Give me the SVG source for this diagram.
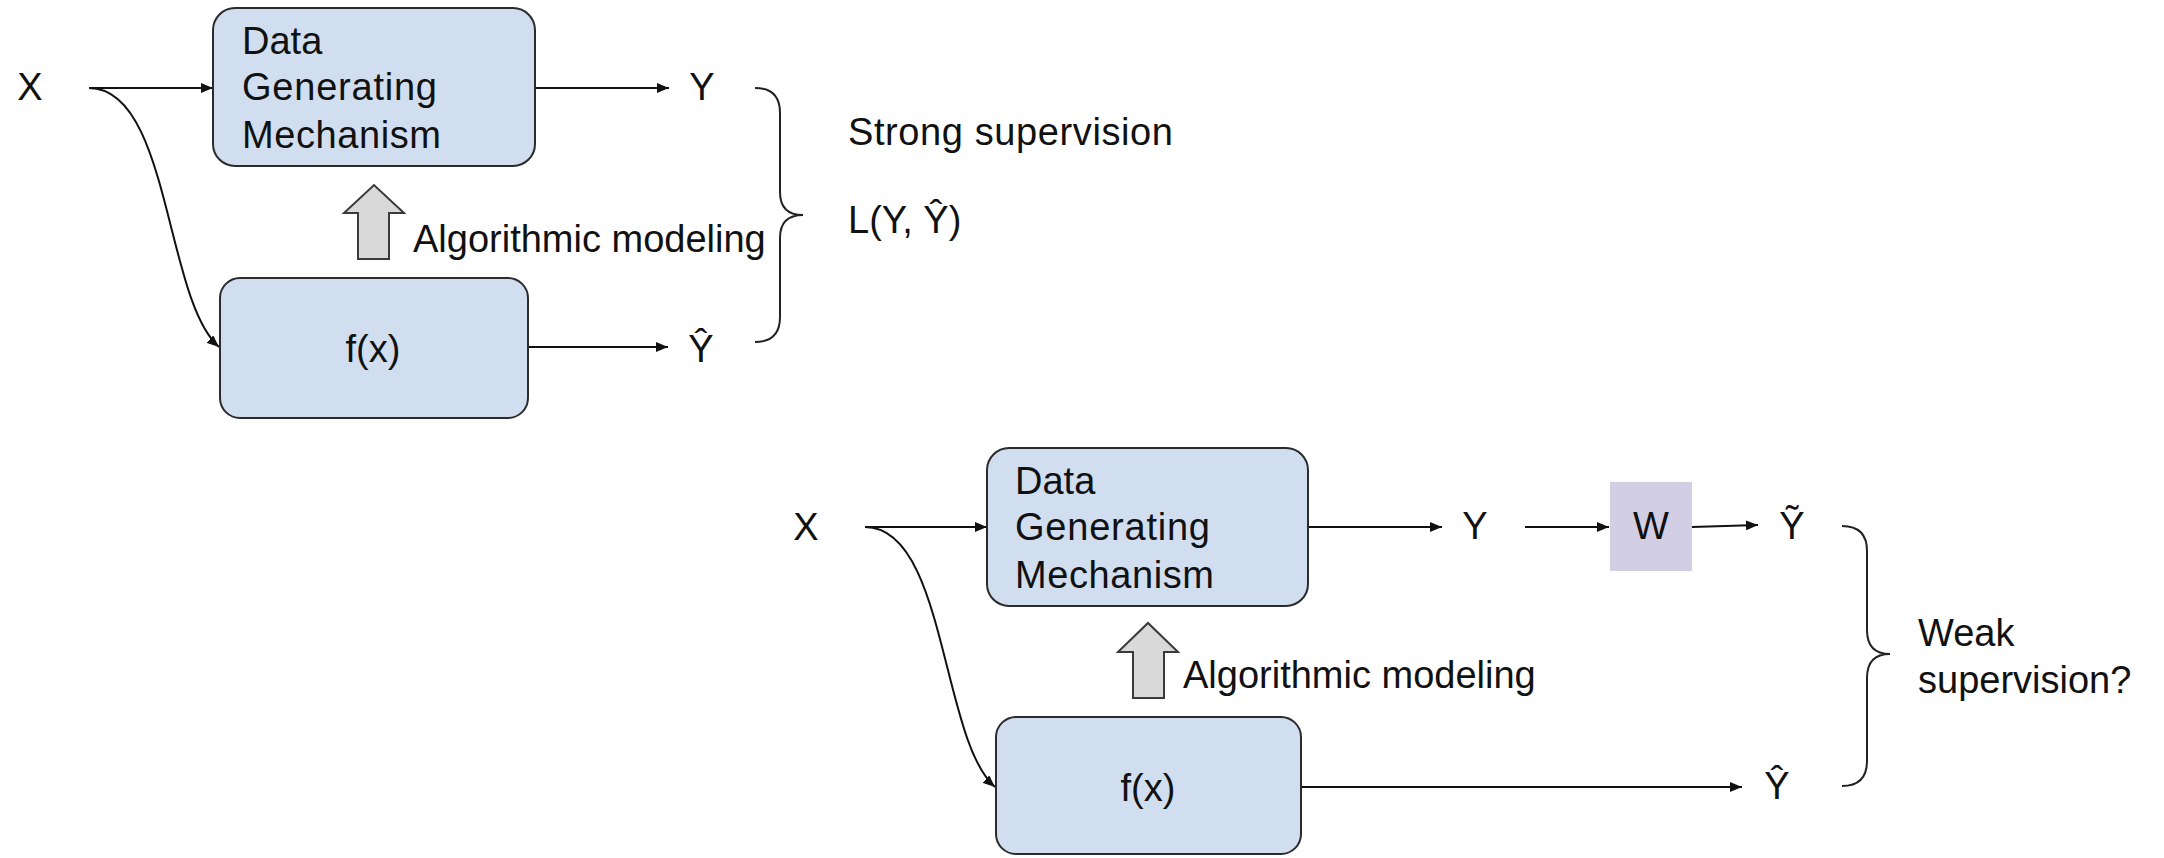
<svg xmlns="http://www.w3.org/2000/svg" width="2164" height="858" viewBox="0 0 2164 858">
  <style>
    text { font-family: "Liberation Sans", Arial, sans-serif; font-size: 38px; fill: #111; }
    .mid { text-anchor: middle; }
    .box { fill: #d0deef; stroke: #2b2b2b; stroke-width: 2; }
    .wbox { fill: #d2cfe5; stroke: none; }
    .wire { fill: none; stroke: #111; stroke-width: 2; }
    .arr { marker-end: url(#head); }
    .brace { fill: none; stroke: #222; stroke-width: 2; }
    .block { fill: #d9d9d9; stroke: #3a3a3a; stroke-width: 2; stroke-linejoin: miter; }
  </style>
  <defs>
    <marker id="head" viewBox="0 0 12 10" refX="12" refY="5" markerWidth="12" markerHeight="10" markerUnits="userSpaceOnUse" orient="auto">
      <path d="M0 0 L12 5 L0 10 Z" fill="#111"/>
    </marker>
  </defs>

  <rect width="2164" height="858" fill="#ffffff"/>

  <!-- connectors -->
  <g id="connectors">
    <!-- strong supervision setup -->
    <path class="wire arr" d="M89 88 H213"/>
    <path class="wire arr" d="M89 88 C170 88 165 300 219 347"/>
    <path class="wire arr" d="M535 88 H669"/>
    <path class="wire arr" d="M528 347 H668"/>
    <!-- weak supervision setup -->
    <path class="wire arr" d="M865 527 H987"/>
    <path class="wire arr" d="M865 527 C946 527 941 740 995 787"/>
    <path class="wire arr" d="M1308 527 H1442"/>
    <path class="wire arr" d="M1525 527 H1609"/>
    <path class="wire arr" d="M1692 527 L1758 525"/>
    <path class="wire arr" d="M1301 787 H1742"/>
  </g>

  <!-- strong supervision setup -->
  <g id="x-top"><text class="mid" x="30" y="100">X</text></g>

  <g id="dgm-top">
    <rect class="box" x="213" y="8" width="322" height="158" rx="22"/>
    <text x="242" y="54">Data</text>
    <text x="242" y="100" textLength="195">Generating</text>
    <text x="242" y="148" textLength="199">Mechanism</text>
  </g>

  <g id="f-top">
    <rect class="box" x="220" y="278" width="308" height="140" rx="20"/>
    <text class="mid" x="373" y="362">f(x)</text>
  </g>

  <g id="modeling-top">
    <path class="block" d="M358 259 V213 H344 L374 185 L404 213 H389 V259 Z"/>
    <text x="413" y="252">Algorithmic modeling</text>
  </g>

  <g id="y-top"><text class="mid" x="702" y="100">Y</text></g>
  <g id="yhat-top"><text class="mid" x="701" y="362">Ŷ</text></g>

  <g id="strong-brace">
    <path class="brace" d="M755 88 Q780 88 780 113 V192 Q780 215 803 215 Q780 215 780 238 V317 Q780 342 755 342"/>
    <text x="848" y="145" textLength="325">Strong supervision</text>
    <text x="848" y="233">L(Y, Ŷ)</text>
  </g>

  <!-- weak supervision setup -->
  <g id="x-bottom"><text class="mid" x="806" y="540">X</text></g>

  <g id="dgm-bottom">
    <rect class="box" x="987" y="448" width="321" height="158" rx="22"/>
    <text x="1015" y="494">Data</text>
    <text x="1015" y="540" textLength="195">Generating</text>
    <text x="1015" y="588" textLength="199">Mechanism</text>
  </g>

  <g id="f-bottom">
    <rect class="box" x="996" y="717" width="305" height="137" rx="20"/>
    <text class="mid" x="1148" y="801">f(x)</text>
  </g>

  <g id="modeling-bottom">
    <path class="block" d="M1133 698 V652 H1118 L1148 623 L1178 652 H1164 V698 Z"/>
    <text x="1183" y="688">Algorithmic modeling</text>
  </g>

  <g id="y-bottom"><text class="mid" x="1475" y="539">Y</text></g>

  <g id="w">
    <rect class="wbox" x="1610" y="482" width="82" height="89"/>
    <text class="mid" x="1651" y="539">W</text>
  </g>

  <g id="ytilde"><text class="mid" x="1792" y="539">Ỹ</text></g>
  <g id="yhat-bottom"><text class="mid" x="1777" y="799">Ŷ</text></g>

  <g id="weak-brace">
    <path class="brace" d="M1842 526 Q1867 526 1867 551 V630 Q1867 654 1890 654 Q1867 654 1867 678 V761 Q1867 786 1842 786"/>
    <text x="1918" y="646">Weak</text>
    <text x="1918" y="693">supervision?</text>
  </g>
</svg>
